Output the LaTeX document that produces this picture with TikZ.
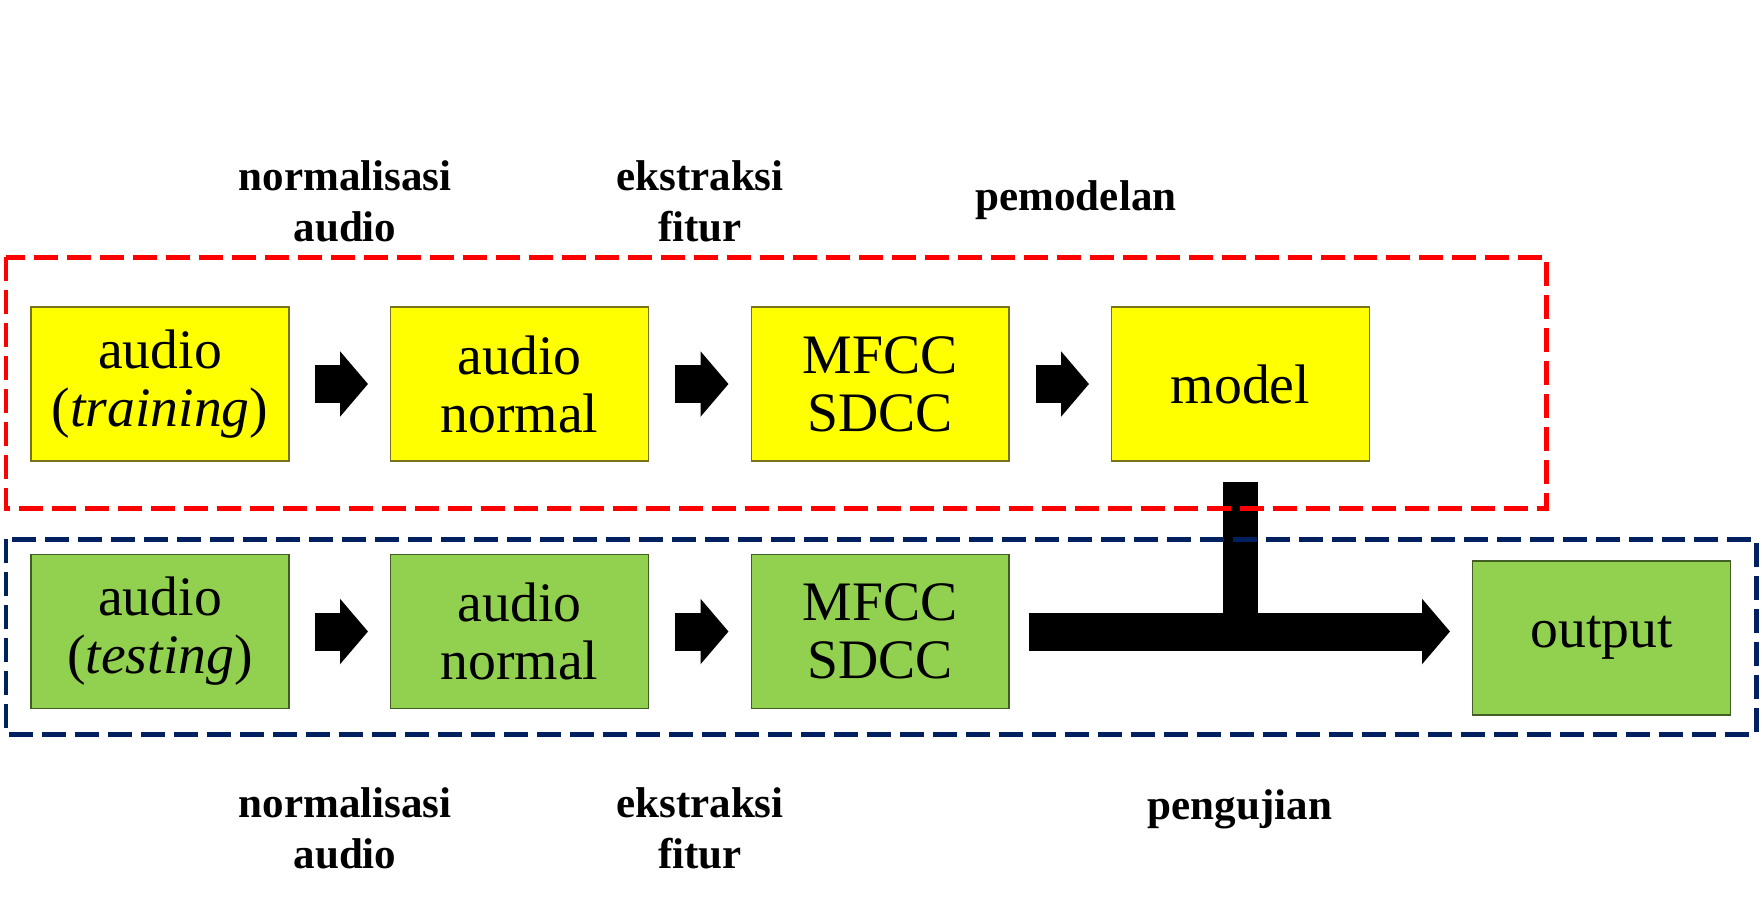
\documentclass[tikz,border=0pt]{standalone}
\usepackage{fontspec}
\setmainfont{Liberation Serif}
\usetikzlibrary{arrows.meta,positioning}
\definecolor{trainColor}{HTML}{FFFF00}
\definecolor{testColor}{HTML}{92D050}
\definecolor{trainLine}{HTML}{FF0000}
\definecolor{testLine}{HTML}{002060}
\tikzset{
	box/.style={draw=#1, line width=0.6pt, minimum width=5.16cm, minimum height=3.08cm,
		align=center, inner sep=0pt, font=\fontsize{31.7}{33}\selectfont},
	trainBox/.style={box=olive!80!black, fill=trainColor},
	testBox/.style={box=testColor!45!black, fill=testColor},
	blockArrow/.style={line width=0.76cm, -{Triangle[length=0.56cm,width=1.28cm]}},
	lab/.style={align=center, font=\fontsize{24.5}{29}\selectfont\bfseries},
	groupFrame/.style={dash pattern=on 0.48cm off 0.18cm, line width=0.1cm}
}

\begin{document}
\begin{tikzpicture}[x=0.02cm, y=-0.02cm]
	\useasboundingbox (0,0) rectangle (1762,903);
	% training
	\node[trainBox] (tr1) at (160,384) {audio\\(\textit{training})};
	\node[trainBox] (tr2) at (519.5,384) {audio\\normal};
	\node[trainBox] (tr3) at (880,384) {MFCC\\SDCC};
	\node[trainBox] (model) at (1240.5,384) {model};
	% testing
	\node[testBox] (ts1) at (160,631.5) {audio\\(\textit{testing})};
	\node[testBox] (ts2) at (519.5,631.5) {audio\\normal};
	\node[testBox] (ts3) at (880,631.5) {MFCC\\SDCC};
	\node[testBox] (out) at (1601.5,638) {output};
	
	\foreach \a/\b in {tr1/tr2,tr2/tr3,tr3/model,ts1/ts2,ts2/ts3}
		\draw[blockArrow, shorten <=0.52cm, shorten >=0.44cm] (\a) -- (\b);
	
	\draw[line width=0.7cm] ([yshift=-0.4cm]model.south) -- (model.south |- ts3.east);
	\draw[blockArrow, shorten <=0.38cm, shorten >=0.44cm] (ts3.east) -- (ts3.east -| out.west);
	
	\draw[groupFrame, trainLine] (6,257) rectangle (1546,508);
	\draw[groupFrame, testLine] (6,539) rectangle (1756,734);
	
	\node[lab] (normTrain) at (345,201) {normalisasi\\audio};
	\node[lab] (ekstTrain) at (700,201) {ekstraksi\\fitur};
	\node[lab] (pemodelan) at (1076,200) {pemodelan};
	\node[lab] (normTest) at (345,828) {normalisasi\\audio};
	\node[lab] (ekstTest) at (700,828) {ekstraksi\\fitur};
	\node[lab] (pengujian) at (1240,809) {pengujian};
\end{tikzpicture}
\end{document}
